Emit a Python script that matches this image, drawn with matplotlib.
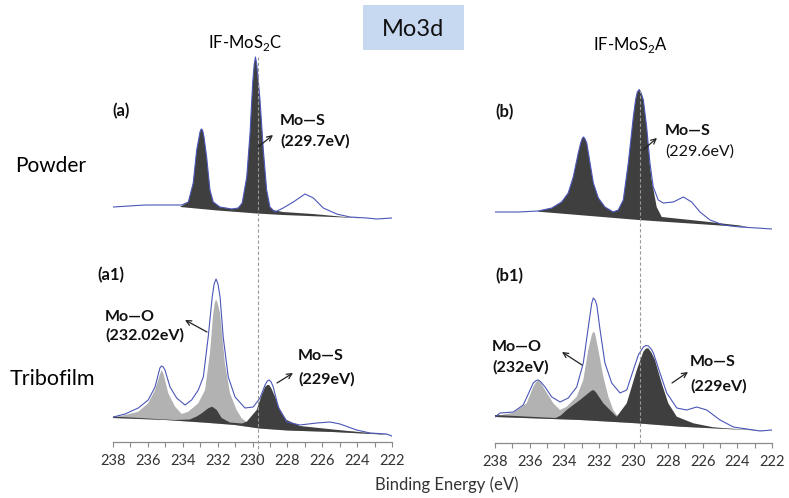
import matplotlib.pyplot as plt
from matplotlib.patches import Rectangle
from matplotlib.ticker import MultipleLocator

plt.rcParams['font.family'] = ['Lato', 'DejaVu Sans']

# binding energy (eV) and intensity (a.u., powder spectra offset upward)

# (a) IF-MoS2C powder
a_env_e = [237.98, 236.17, 234.06, 233.68, 233.40, 233.20, 233.01, 232.96, 232.91, 232.85,
           232.78, 232.63, 232.44, 232.25, 231.87, 231.19, 230.82, 230.59, 230.33, 230.14,
           229.99, 229.90, 229.83, 229.76, 229.67, 229.57, 229.38, 229.19, 229.00, 228.71,
           228.24, 227.66, 226.99, 226.51, 225.94, 225.17, 224.41, 223.45, 222.88, 222.02]
a_env_i = [235, 237, 237, 240, 259, 292, 310, 312.5, 313, 311,
           305, 285, 252, 240, 235, 233, 234, 239, 265, 309,
           359, 378, 385, 378, 362, 342, 292, 252, 235, 230,
           234, 240, 248, 244, 234, 228, 225, 224, 223, 224]
a_dark_e = [234.16, 233.68, 233.40, 233.20, 233.01, 232.96, 232.91, 232.85, 232.78, 232.63,
            232.44, 232.25, 231.87, 231.19, 230.82, 230.59, 230.33, 230.14, 229.99, 229.90,
            229.83, 229.76, 229.67, 229.57, 229.38, 229.19, 229.00, 228.83, 228.25, 226.53,
            224.98, 223.84]
a_dark_i = [235, 240, 259, 292, 310, 312.5, 313, 311, 305, 285,
            252, 240, 235, 233, 234, 239, 265, 309, 359, 378,
            385, 378, 362, 342, 292, 252, 235, 232, 230, 228,
            225.5, 223.7]
a_base_e = [234.16, 232.0, 229.76, 228.25, 224.98, 223.84]
a_base_i = [235, 231.5, 228.5, 227, 224.7, 223.7]

# (b) IF-MoS2A powder
b_env_e = [238.00, 236.65, 235.50, 234.72, 234.15, 233.77, 233.48, 233.19, 233.05, 232.95,
           232.88, 232.80, 232.70, 232.51, 232.32, 232.03, 231.65, 231.17, 230.88, 230.59,
           230.30, 230.01, 229.88, 229.78, 229.67, 229.56, 229.43, 229.24, 229.05, 228.86,
           228.57, 228.28, 227.70, 227.12, 226.64, 226.16, 225.58, 224.81, 223.85, 222.88,
           222.01]
b_env_i = [231, 231, 232, 235, 241, 250, 266, 290, 300, 305,
           306, 304, 300, 280, 260, 245, 236, 231, 233, 243,
           280, 326, 343, 351, 353.5, 350, 343, 316, 280, 256,
           243, 240, 241, 246, 241, 231, 223, 218, 216, 215,
           214]
b_dark_e = [235.50, 234.72, 234.15, 233.77, 233.48, 233.19, 233.05, 232.95, 232.88, 232.80,
            232.70, 232.51, 232.32, 232.03, 231.65, 231.17, 230.88, 230.59, 230.30, 230.01,
            229.88, 229.78, 229.67, 229.56, 229.43, 229.24, 229.05, 228.95, 228.66, 228.37,
            226.16, 223.85, 223.40]
b_dark_i = [232, 235, 241, 250, 266, 290, 300, 305, 306, 304,
            300, 280, 260, 245, 236, 231, 233, 243, 280, 326,
            343, 351, 353.5, 350, 343, 316, 278, 263, 236, 226,
            222, 217.5, 216.2]
b_base_e = [235.50, 229.70, 228.28, 224.13, 223.40]
b_base_i = [231.3, 223, 221.3, 216.5, 216.2]

# (a1) IF-MoS2C tribofilm
a1_env_e = [237.98, 237.31, 236.55, 235.98, 235.59, 235.31, 235.22, 235.12, 235.02, 234.73,
            234.35, 233.87, 233.49, 233.11, 232.82, 232.54, 232.31, 232.20, 232.09, 231.98,
            231.86, 231.68, 231.39, 231.00, 230.43, 229.96, 229.57, 229.28, 229.15, 229.04,
            228.93, 228.81, 228.52, 228.04, 227.28, 226.32, 225.56, 224.98, 224.03, 223.26,
            222.31, 222.02]
a1_env_i = [25, 28, 34, 42, 55, 74, 76, 75, 72, 55,
            44, 37, 42, 52, 65, 105, 145, 158, 163, 158,
            145, 105, 65, 45, 34, 35, 44, 57, 61, 62,
            60, 55, 35, 20, 17, 19, 20, 18, 12, 9,
            8, 6]
a1_grey_e = [237.70, 236.55, 235.98, 235.59, 235.30, 235.21, 235.10, 234.83, 234.44, 234.06,
             233.68, 233.11, 232.72, 232.44, 232.25, 232.16, 232.09, 232.00, 231.86, 231.58,
             231.29, 230.91, 230.62, 230.24, 229.60, 227.28, 223.44, 222.50]
a1_grey_i = [25.3, 30.3, 38.7, 52, 68, 72, 68, 48.7, 35.3, 28,
             30.3, 38.7, 52, 88.7, 128.7, 139, 142.7, 139, 128.7, 78.7,
             48.7, 32, 23.7, 18.7, 16.5, 14, 9.5, 7.8]
a1_dark_e = [238.00, 234.50, 233.60, 233.20, 232.91, 232.54, 232.31, 232.05, 231.77, 231.29,
             230.60, 230.33, 229.76, 229.47, 229.28, 229.15, 229.04, 228.90, 228.71, 228.42,
             228.04, 227.28, 225.37, 223.65, 222.00]
a1_dark_i = [25.5, 22, 22.5, 25.5, 28.7, 33.7, 35.3, 32, 24, 19.5,
             18.5, 20.3, 32, 47, 55, 57, 57, 53, 45.3, 32,
             22, 16, 12.5, 9.5, 7]
a1_base_e = [238.0, 235.0, 232.7, 231.0, 229.6, 228.0, 225.4, 222.0]
a1_base_i = [24, 22, 19.3, 17, 13.5, 11.5, 10, 7]

# (b1) IF-MoS2A tribofilm
b1_env_e = [238.00, 237.71, 236.94, 236.37, 235.79, 235.62, 235.50, 235.35, 235.11, 234.72,
            234.24, 233.77, 233.28, 232.90, 232.61, 232.41, 232.32, 232.22, 232.12, 231.93,
            231.65, 231.26, 230.78, 230.39, 230.01, 229.72, 229.43, 229.28, 229.14, 228.98,
            228.85, 228.47, 228.08, 227.50, 226.93, 226.35, 225.77, 225.00, 224.23, 223.46,
            222.69, 222.00]
b1_env_i = [26, 30, 31, 38, 60, 62.5, 63, 61, 56, 46,
            41, 45, 56, 80, 116, 140, 145, 143, 138, 113,
            80, 60, 50, 53, 73, 88, 96, 97.5, 97, 94,
            90, 70, 50, 35, 33, 36, 33, 23, 16, 14,
            12, 13]
b1_grey_e = [237.50, 236.94, 236.17, 235.79, 235.62, 235.50, 235.35, 235.11, 234.63, 234.24,
             233.86, 233.28, 232.90, 232.61, 232.41, 232.32, 232.22, 232.03, 231.74, 231.45,
             231.17, 230.97, 230.50, 229.80, 226.00, 222.00]
b1_grey_i = [28.5, 30.3, 39.7, 56.3, 61, 62.3, 60, 53, 39.7, 33,
             36.3, 46.3, 63, 93, 108, 111.3, 109.7, 93, 66.3, 46.3,
             33, 28, 24, 21.5, 16, 12.3]
b1_dark_e = [238.00, 234.50, 234.20, 233.86, 233.09, 232.45, 232.32, 232.18, 231.74, 231.17,
             230.97, 230.39, 229.81, 229.43, 229.28, 229.14, 228.95, 228.76, 228.37, 227.99,
             227.50, 226.54, 225.39, 223.85, 222.00]
b1_dark_i = [28, 25, 27.5, 33, 43, 52, 53, 51, 39.7, 29.7,
             26.3, 39.7, 73, 91.3, 94.5, 94.7, 90, 83, 59.7, 39.7,
             26.3, 19.7, 15.7, 13.5, 12.3]
b1_base_e = [238.00, 233.09, 229.81, 227.31, 223.46, 222.00]
b1_base_i = [26, 23, 19.7, 16.3, 13, 12.3]

xticks = [238, 236, 234, 232, 230, 228, 226, 224, 222]

env_col = '#4c56b8'
dark_col = '#3f3f3f'
grey_col = '#b2b2b2'
axis_col = '#8a8a8a'

W, H = 789, 498
fig = plt.figure(figsize=(W / 100, H / 100), dpi=100)


def fx(x):
    return x / W


def fy(y):
    return 1 - y / H


def patch(ax, top_e, top_i, base_e, base_i, color):
    ax.fill(list(top_e) + list(base_e[::-1]), list(top_i) + list(base_i[::-1]),
            color=color, lw=0, zorder=2)


def setup(ax):
    ax.set_xlim(238, 222)
    ax.set_ylim(0, 400)
    for s in ['top', 'left', 'right']:
        ax.spines[s].set_visible(False)
    ax.spines['bottom'].set_color(axis_col)
    ax.spines['bottom'].set_linewidth(0.9)
    ax.set_yticks([])
    ax.set_xticks(xticks)
    ax.xaxis.set_minor_locator(MultipleLocator(1))
    ax.tick_params(axis='x', which='both', direction='out', length=3.5,
                   width=0.8, color=axis_col, labelsize=10.5, labelcolor='#333333', pad=5)
    ax.patch.set_visible(False)


ax1 = fig.add_axes([fx(113), fy(442), 279 / W, 400 / H])
ax2 = fig.add_axes([fx(495), fy(443), 277 / W, 400 / H])
setup(ax1)
setup(ax2)

# left column: IF-MoS2C
patch(ax1, a_dark_e, a_dark_i, a_base_e, a_base_i, dark_col)
patch(ax1, a1_grey_e, a1_grey_i, a1_base_e, a1_base_i, grey_col)
patch(ax1, a1_dark_e, a1_dark_i, a1_base_e, a1_base_i, dark_col)
ax1.plot(a_env_e, a_env_i, color=env_col, lw=0.8, zorder=3)
ax1.plot(a1_env_e, a1_env_i, color=env_col, lw=0.8, zorder=3)
ax1.plot([229.7, 229.7], [-18, 385], ls=(0, (3, 2)), color='#999999', lw=0.8,
         zorder=4, clip_on=False)

# right column: IF-MoS2A
patch(ax2, b_dark_e, b_dark_i, b_base_e, b_base_i, dark_col)
patch(ax2, b1_grey_e, b1_grey_i, b1_base_e, b1_base_i, grey_col)
patch(ax2, b1_dark_e, b1_dark_i, b1_base_e, b1_base_i, dark_col)
ax2.plot(b_env_e, b_env_i, color=env_col, lw=0.8, zorder=3)
ax2.plot(b1_env_e, b1_env_i, color=env_col, lw=0.8, zorder=3)
ax2.plot([229.65, 229.65], [0, 353], ls=(0, (3, 2)), color='#999999', lw=0.8,
         zorder=4, clip_on=False)

# title box
fig.patches.append(Rectangle((fx(363), fy(50)), 101 / W, 45 / H, transform=fig.transFigure,
                             facecolor='#c6d9f0', edgecolor='none'))
fig.text(fx(413.5), fy(29), 'Mo3d', fontsize=17, ha='center', va='center', color='#111111')

fig.text(fx(245), fy(43), r'IF-MoS$_\mathregular{2}$C', fontsize=12, ha='center', va='center')
fig.text(fx(630), fy(45), r'IF-MoS$_\mathregular{2}$A', fontsize=12, ha='center', va='center')
fig.text(fx(51), fy(166), 'Powder', fontsize=15, ha='center', va='center')
fig.text(fx(52), fy(379), 'Tribofilm', fontsize=15.5, ha='center', va='center')
fig.text(fx(447), fy(485), 'Binding Energy (eV)', fontsize=12, ha='center', va='center',
         color='#333333')

bold = dict(fontsize=12, fontweight='bold', ha='left', va='center', color='#111111')
fig.text(fx(112), fy(111), '(a)', **bold)
fig.text(fx(495), fy(112), '(b)', **bold)
fig.text(fx(97), fy(275), '(a1)', **bold)
fig.text(fx(495), fy(276), '(b1)', **bold)

lab = dict(fontsize=11.5, fontweight='bold', ha='left', va='center', color='#111111')
fig.text(fx(280), fy(121), 'Mo—S', **lab)
fig.text(fx(280), fy(141), '(229.7eV)', **lab)
fig.text(fx(665), fy(131), 'Mo—S', **lab)
fig.text(fx(665), fy(152), '(229.6eV)', fontsize=11.5, ha='left', va='center', color='#111111')
fig.text(fx(105), fy(317), 'Mo—O', **lab)
fig.text(fx(105), fy(335), '(232.02eV)', **lab)
fig.text(fx(298), fy(356), 'Mo—S', **lab)
fig.text(fx(298), fy(379), '(229eV)', **lab)
fig.text(fx(492), fy(347), 'Mo—O', **lab)
fig.text(fx(492), fy(367), '(232eV)', **lab)
fig.text(fx(690), fy(362), 'Mo—S', **lab)
fig.text(fx(690), fy(386), '(229eV)', **lab)

arrows = [((258, 147), (273, 135)),
          ((643, 150), (657, 138)),
          ((207, 332), (185, 320)),
          ((277, 383), (293, 373)),
          ((582, 365), (562, 352)),
          ((672, 383), (688, 372))]
for start, end in arrows:
    fig.add_artist(plt.Annotation('', xy=(fx(end[0]), fy(end[1])), xycoords='figure fraction',
                                  xytext=(fx(start[0]), fy(start[1])), textcoords='figure fraction',
                                  arrowprops=dict(arrowstyle='->', lw=0.9, color='#222222',
                                                  shrinkA=0, shrinkB=0, mutation_scale=9)))

fig.savefig('out.png', dpi=100)
